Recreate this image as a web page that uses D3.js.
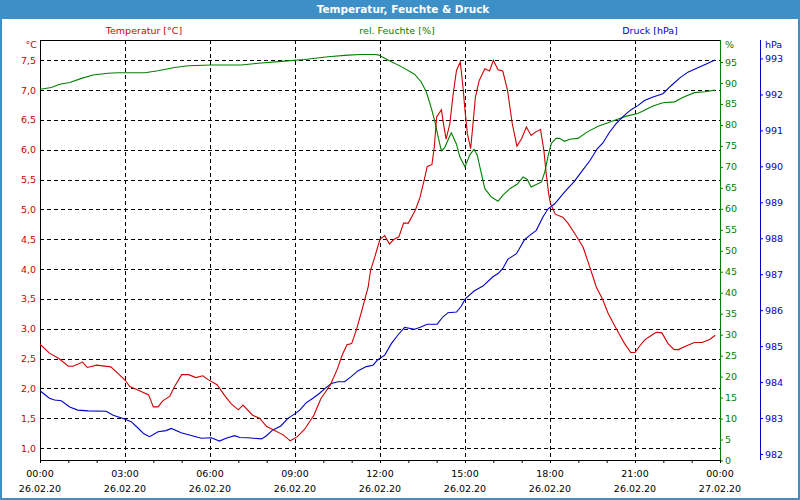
<!DOCTYPE html>
<html>
<head>
<meta charset="utf-8">
<script src="https://cdn.jsdelivr.net/npm/d3@7"></script>
<style>
  html, body { margin: 0; padding: 0; background: #ffffff; }
  svg { display: block; }
  text { font-family: "DejaVu Sans", Verdana, sans-serif; }
</style>
</head>
<body>
<script>
// ---------------- DATA ----------------
const chartTitle = "Temperatur, Feuchte & Druck";
const seriesNames = ["Temperatur [°C]", "rel. Feuchte [%]", "Druck [hPa]"];
const unitLabels = ["°C", "%", "hPa"];

// minutes after 26.02.20 00:00
const tempMinutes = [0,20,40,60,70,90,100,120,150,165,180,190,205,230,240,250,260,275,285,300,315,330,345,355,375,390,405,420,430,450,465,480,495,515,530,545,560,580,595,615,630,640,650,660,670,680,695,700,710,715,720,730,740,750,760,770,780,795,805,815,820,830,835,840,850,855,860,868,875,882,890,895,900,905,912,917,922,930,942,952,960,970,980,990,1000,1010,1020,1030,1040,1050,1060,1067,1072,1077,1081,1091,1107,1118,1132,1150,1164,1178,1192,1203,1215,1228,1238,1251,1260,1270,1280,1295,1305,1317,1330,1343,1352,1368,1386,1402,1418,1430];
const tempValues = [2.74,2.59,2.50,2.37,2.37,2.44,2.35,2.39,2.36,2.25,2.14,2.03,1.98,1.89,1.69,1.69,1.79,1.87,2.03,2.23,2.23,2.18,2.21,2.15,2.06,1.89,1.74,1.64,1.72,1.55,1.50,1.36,1.30,1.22,1.12,1.19,1.31,1.55,1.83,2.06,2.33,2.56,2.73,2.75,2.98,3.26,3.70,3.98,4.23,4.37,4.50,4.56,4.42,4.50,4.54,4.77,4.77,4.99,5.21,5.54,5.72,5.75,6.05,6.55,6.67,6.41,6.18,6.44,6.94,7.33,7.47,7.11,6.66,6.27,6.02,6.44,6.88,7.16,7.36,7.32,7.50,7.34,7.32,7.00,6.44,6.06,6.19,6.38,6.24,6.30,6.34,5.99,5.60,5.27,5.10,4.92,4.87,4.77,4.60,4.37,4.04,3.70,3.48,3.26,3.08,2.89,2.75,2.60,2.60,2.71,2.81,2.89,2.94,2.93,2.75,2.65,2.65,2.71,2.77,2.77,2.82,2.89];

const humMinutes = [0,24,42,63,88,112,144,165,222,250,285,313,363,426,462,518,560,610,652,680,709,716,737,765,793,807,818,829,837,843,850,857,864,871,882,889,900,910,919,926,933,942,956,970,980,995,1011,1023,1032,1040,1051,1062,1069,1076,1083,1093,1100,1111,1122,1139,1160,1182,1203,1217,1242,1266,1280,1298,1319,1344,1362,1386,1408,1429];
const humValues = [88.5,88.9,89.7,90.1,91.1,91.9,92.3,92.45,92.45,92.9,93.7,94.1,94.3,94.3,94.7,95.2,95.6,96.25,96.65,96.8,96.8,96.7,95.5,93.9,92.1,90.3,87.9,83.9,80.4,77.2,73.8,74.6,76.4,78.1,75.4,72.4,70.0,72.8,74.2,72.8,69.2,64.8,62.8,61.8,63.2,64.8,65.9,67.6,67.0,65.2,65.8,66.4,68.8,72.6,75.6,76.8,76.8,76.1,76.6,76.8,78.4,79.7,80.5,81.1,82.1,82.7,83.5,84.5,85.3,85.5,86.6,87.7,87.9,88.3];

const presMinutes = [0,20,31,45,63,80,102,140,155,176,193,207,220,232,250,267,278,299,324,342,363,380,394,412,423,440,469,479,493,510,525,541,550,564,578,592,603,617,631,645,659,673,691,705,716,730,744,758,772,793,804,820,841,853,864,882,892,901,920,938,959,970,980,991,1009,1026,1037,1051,1065,1076,1090,1111,1132,1146,1164,1180,1192,1206,1220,1235,1251,1266,1280,1298,1319,1337,1355,1372,1393,1411,1429];
const presValues = [983.76,983.55,983.50,983.48,983.31,983.22,983.20,983.19,983.08,982.99,982.90,982.73,982.56,982.48,982.62,982.65,982.71,982.59,982.50,982.44,982.45,982.36,982.44,982.51,982.46,982.45,982.42,982.50,982.67,982.78,982.99,983.13,983.22,983.43,983.55,983.69,983.82,983.96,984.01,984.01,984.15,984.31,984.43,984.47,984.63,984.75,985.07,985.31,985.52,985.47,985.52,985.61,985.61,985.81,985.93,985.95,986.11,986.32,986.54,986.67,986.93,987.02,987.16,987.42,987.57,987.96,988.08,988.22,988.59,988.82,988.96,989.29,989.59,989.84,990.15,990.49,990.65,990.95,991.19,991.39,991.57,991.69,991.83,991.93,992.02,992.25,992.46,992.62,992.74,992.85,992.96];

const tempTicks = [1.0,1.5,2.0,2.5,3.0,3.5,4.0,4.5,5.0,5.5,6.0,6.5,7.0,7.5];
const humTicks = [0,5,10,15,20,25,30,35,40,45,50,55,60,65,70,75,80,85,90,95];
const presTicks = [982,983,984,985,986,987,988,989,990,991,992,993];
const labelHours = [0,3,6,9,12,15,18,21,24];

// ---------------- LAYOUT ----------------
const W = 800, H = 500;
const L = 40, R = 720, T = 40, B = 460;
const cRed = "#d00000", cGreen = "#008000", cBlue = "#0000cc", cFrame = "#3d8fc8";

const svg = d3.select("body").append("svg").attr("width", W).attr("height", H);
svg.append("rect").attr("x", 1).attr("y", 1).attr("width", W - 2).attr("height", H - 2)
  .attr("fill", "#fff").attr("stroke", cFrame).attr("stroke-width", 2);
svg.append("rect").attr("x", 0).attr("y", 0).attr("width", W).attr("height", 19).attr("fill", cFrame);
svg.append("text").attr("x", 403).attr("y", 13).attr("text-anchor", "middle")
  .attr("fill", "#fff").attr("font-size", "10.5px").attr("font-weight", "bold").text(chartTitle);

const t0 = new Date(2020, 1, 26, 0, 0);
const toDate = m => new Date(t0.getTime() + m * 60000);
const x = d3.scaleTime().domain([t0, toDate(1440)]).range([L, R]);
const yT = d3.scaleLinear().domain([1, 7.5]).range([448, 60.3]);
const yH = d3.scaleLinear().domain([0, 95]).range([460.5, 62]);
const yP = d3.scaleLinear().domain([982, 993]).range([454, 58.5]);

// legend labels
const legendX = [144, 397, 650], legendC = [cRed, cGreen, cBlue];
seriesNames.forEach((n, i) => {
  svg.append("text").attr("x", legendX[i]).attr("y", 34).attr("text-anchor", "middle")
    .attr("fill", legendC[i]).attr("font-size", "9.5px").text(n);
});
svg.append("text").attr("x", 37).attr("y", 48).attr("text-anchor", "end").attr("fill", cRed).attr("font-size", "9.5px").text(unitLabels[0]);
svg.append("text").attr("x", 725).attr("y", 48).attr("fill", cGreen).attr("font-size", "9.5px").text(unitLabels[1]);
svg.append("text").attr("x", 765).attr("y", 48).attr("fill", cBlue).attr("font-size", "9.5px").text(unitLabels[2]);

// grid
const grid = svg.append("g").attr("stroke", "#000").attr("stroke-width", 1).attr("stroke-dasharray", "4,3").attr("shape-rendering", "crispEdges");
tempTicks.forEach(t => grid.append("line").attr("x1", L).attr("x2", R).attr("y1", Math.round(yT(t)) + 0.5).attr("y2", Math.round(yT(t)) + 0.5));
labelHours.slice(1, -1).forEach(h => {
  const xx = Math.round(x(toDate(h * 60))) + 0.5;
  grid.append("line").attr("x1", xx).attr("x2", xx).attr("y1", T).attr("y2", B);
});

// frame lines
const fr = svg.append("g").attr("shape-rendering", "crispEdges");
fr.append("line").attr("x1", L).attr("x2", R).attr("y1", T + 0.5).attr("y2", T + 0.5).attr("stroke", "#000");
fr.append("line").attr("x1", L + 0.5).attr("x2", L + 0.5).attr("y1", T).attr("y2", B + 3).attr("stroke", "#000");
fr.append("line").attr("x1", L).attr("x2", R).attr("y1", B + 0.5).attr("y2", B + 0.5).attr("stroke", "#000");
fr.append("line").attr("x1", R + 0.5).attr("x2", R + 0.5).attr("y1", T).attr("y2", B + 1).attr("stroke", cGreen);
fr.append("line").attr("x1", 760.5).attr("x2", 760.5).attr("y1", T).attr("y2", B).attr("stroke", cBlue);

// left axis
const axL = svg.append("g").attr("transform", `translate(${L},0)`)
  .call(d3.axisLeft(yT).tickValues(tempTicks).tickSize(0).tickPadding(4).tickFormat(d => d.toFixed(1).replace(".", ",")));
axL.select(".domain").remove();
axL.selectAll("text").attr("fill", cRed).attr("font-size", "9.5px").attr("font-family", "DejaVu Sans, sans-serif");

// green axis
const axH = svg.append("g").attr("transform", `translate(${R},0)`)
  .call(d3.axisRight(yH).tickValues(humTicks).tickSize(3).tickPadding(2));
axH.select(".domain").remove();
axH.selectAll("line").attr("stroke", cGreen);
axH.selectAll("text").attr("fill", cGreen).attr("font-size", "9.5px").attr("font-family", "DejaVu Sans, sans-serif");

// blue axis
const axP = svg.append("g").attr("transform", `translate(760,0)`)
  .call(d3.axisRight(yP).tickValues(presTicks).tickSize(3).tickPadding(2).tickFormat(d3.format("d")));
axP.select(".domain").remove();
axP.selectAll("line").attr("stroke", cBlue);
axP.selectAll("text").attr("fill", cBlue).attr("font-size", "9.5px").attr("font-family", "DejaVu Sans, sans-serif");

// bottom axis (hourly ticks)
const axB = svg.append("g").attr("transform", `translate(0,${B})`)
  .call(d3.axisBottom(x).ticks(d3.timeHour.every(1)).tickSize(3).tickFormat(""));
axB.select(".domain").remove();
axB.selectAll("line").attr("stroke", "#000");
const fTime = d3.timeFormat("%H:%M"), fDate = d3.timeFormat("%d.%m.%y");
labelHours.forEach(h => {
  const d = toDate(h * 60);
  const g = svg.append("text").attr("x", x(d)).attr("y", 477).attr("text-anchor", "middle")
    .attr("fill", "#000").attr("font-size", "9.5px");
  g.append("tspan").attr("x", x(d)).attr("dy", 0).text(fTime(d));
  g.append("tspan").attr("x", x(d)).attr("dy", 15).text(fDate(d));
});

// series
svg.append("clipPath").attr("id", "plot").append("rect").attr("x", L).attr("y", T).attr("width", R - L).attr("height", B - T);
const plot = svg.append("g").attr("clip-path", "url(#plot)");
function draw(mins, vals, yS, color) {
  const data = mins.map((m, i) => [toDate(m), vals[i]]);
  plot.append("path").datum(data)
    .attr("fill", "none").attr("stroke", color).attr("stroke-width", 1.1)
    .attr("d", d3.line().x(d => x(d[0])).y(d => yS(d[1])));
}
draw(humMinutes, humValues, yH, cGreen);
draw(presMinutes, presValues, yP, cBlue);
draw(tempMinutes, tempValues, yT, cRed);
</script>
</body>
</html>
